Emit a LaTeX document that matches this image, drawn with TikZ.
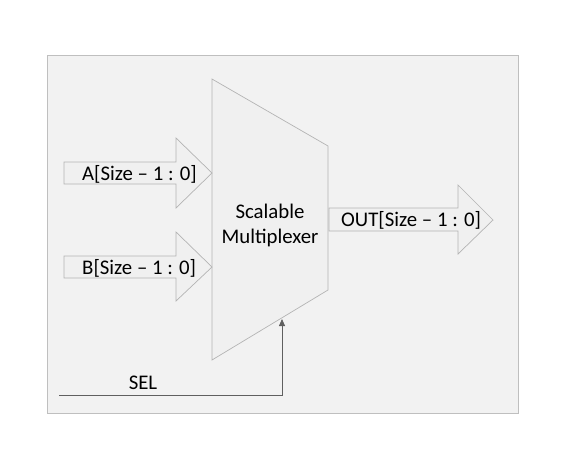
\documentclass[tikz,border=0pt]{standalone}
\usepackage{fontspec}
\setmainfont{Carlito}
\usetikzlibrary{arrows.meta}
\definecolor{bgfill}{HTML}{F2F2F2}
\definecolor{bgline}{HTML}{BFBFBF}
\definecolor{shfill}{HTML}{F0F0F0}
\definecolor{shline}{HTML}{B4B4B4}
\definecolor{selline}{HTML}{606060}
\tikzset{
  shapeline/.style={draw=shline, fill=shfill, line width=0.7pt, line join=miter},
  lbl/.style={inner sep=0pt, font=\fontsize{20.8}{25}\selectfont, text=black},
}
\begin{document}
\begin{tikzpicture}[x=1pt,y=-1pt]
\useasboundingbox (0,0) rectangle (588,474);
\fill[white] (0,0) rectangle (588,474);
% outer frame
\draw[draw=bgline, fill=bgfill, line width=0.8pt] (47,55) rectangle (518,413);
% multiplexer
\draw[shapeline] (212,79) -- (328,146) -- (328,290) -- (212,360) -- cycle;
\node[lbl, align=center] (mux) at (270,225) {Scalable\\Multiplexer};
% input arrow A
\draw[shapeline] (64,162) -- (176,162) -- (176,138) -- (212,173) -- (176,208) -- (176,184) -- (64,184) -- cycle;
\node[lbl, anchor=west] (a) at (82,174) {A[Size – 1 : 0]};
% input arrow B
\draw[shapeline] (64,256) -- (176,256) -- (176,232) -- (212,267) -- (176,301) -- (176,278) -- (64,278) -- cycle;
\node[lbl, anchor=west] (b) at (82,268) {B[Size – 1 : 0]};
% output arrow
\draw[shapeline] (329,208) -- (458,208) -- (458,185) -- (493,220) -- (458,254) -- (458,231) -- (329,231) -- cycle;
\node[lbl, anchor=west] (out) at (341,220) {OUT[Size – 1 : 0]};
% SEL
\coordinate (selstart) at (59,395);
\coordinate (selcorner) at (282,395);
\coordinate (seltip) at (282,319);
\draw[selline, line width=0.8pt, -{Triangle[length=7pt,width=6pt]}] (selstart) -- (selcorner) -- (seltip);
\node[lbl] (sel) at (143,383) {SEL};
\end{tikzpicture}
\end{document}
